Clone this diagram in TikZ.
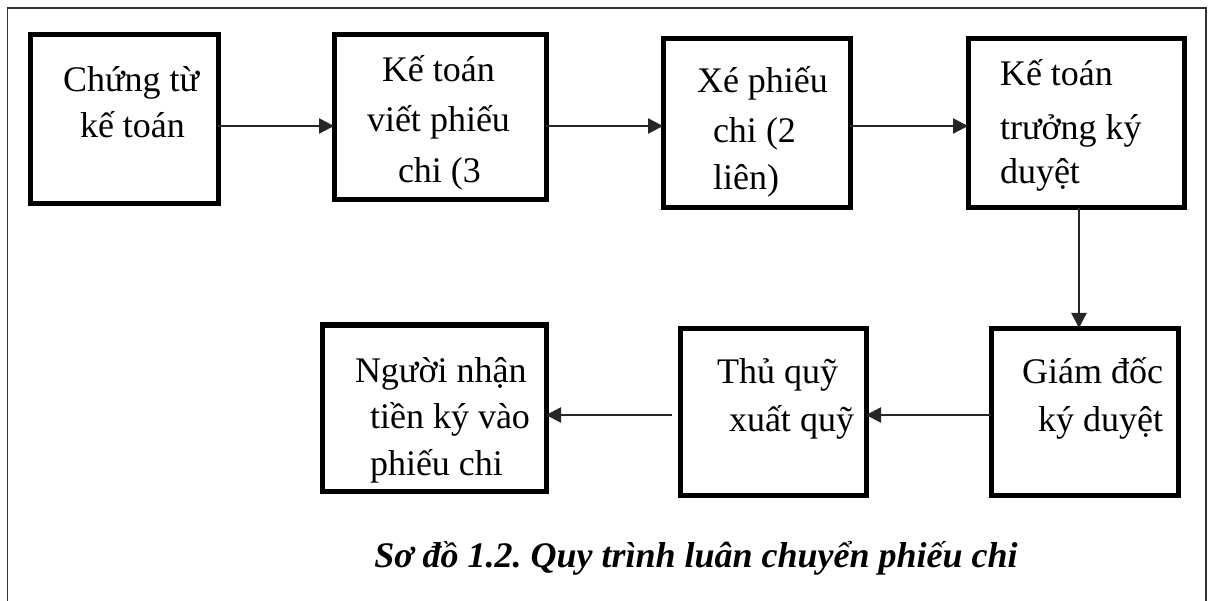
\documentclass[tikz,border=0pt]{standalone}
\usepackage{fontspec}
\setmainfont{Liberation Serif}
\usetikzlibrary{arrows.meta}
\begin{document}
\frenchspacing
\begin{tikzpicture}[x=1pt,y=-1pt,
  stepbox/.style={draw=black,line width=5pt,rectangle,inner sep=0pt,outer sep=0pt},
  lbl/.style={inner sep=0pt,outer sep=0pt,font=\fontsize{36}{44}\selectfont},
  arr/.style={draw=black!85,line width=2.4pt,-{Triangle[length=15pt,width=15pt]}},
  frame/.style={draw=black!80,line width=1.5pt}]
\useasboundingbox (0,0) rectangle (1209,601);
% open outer frame
\draw[frame] (7.5,601) -- (7.5,8) -- (1206,8) -- (1206,601);

% boxes
\node[stepbox,minimum width=188pt,minimum height=169pt] (b1) at (124,119.5) {};
\node[stepbox,minimum width=212pt,minimum height=165pt] (b2) at (440,117.5) {};
\node[stepbox,minimum width=187pt,minimum height=169pt] (b3) at (756.5,123.5) {};
\node[stepbox,minimum width=216pt,minimum height=169pt] (b4) at (1076,123.5) {};
\node[stepbox,minimum width=187pt,minimum height=167pt] (b5) at (1084.5,411.5) {};
\node[stepbox,minimum width=186pt,minimum height=167pt] (b6) at (773,411.5) {};
\node[stepbox,minimum width=224pt,minimum height=166pt] (b7) at (434,408) {};

% box texts
\node[lbl,anchor=base west] (t11) at (63,92) {Chứng từ};
\node[lbl,anchor=base west] (t12) at (80,138) {kế toán};
\node[lbl,anchor=base west] (t21) at (382,82) {Kế toán};
\node[lbl,anchor=base west] (t22) at (367,132) {viết phiếu};
\node[lbl,anchor=base west] (t23) at (398,183) {chi (3};
\node[lbl,anchor=base west] (t31) at (697,93) {Xé phiếu};
\node[lbl,anchor=base west] (t32) at (713,143) {chi (2};
\node[lbl,anchor=base west] (t33) at (713,190) {liên)};
\node[lbl,anchor=base west] (t41) at (1000,86) {Kế toán};
\node[lbl,anchor=base west] (t42) at (1000,140) {trưởng ký};
\node[lbl,anchor=base west] (t43) at (1000,184) {duyệt};
\node[lbl,anchor=base east] (t51) at (1163,383) {Giám đốc};
\node[lbl,anchor=base east] (t52) at (1163,431) {ký duyệt};
\node[lbl,anchor=base west] (t61) at (717,383) {Thủ quỹ};
\node[lbl,anchor=base west] (t62) at (729,431) {xuất quỹ};
\node[lbl,anchor=base west] (t71) at (355,382) {Người nhận};
\node[lbl,anchor=base west] (t72) at (370,428) {tiền ký vào};
\node[lbl,anchor=base west] (t73) at (370,475) {phiếu chi};

% caption
\node[lbl,anchor=base,font=\fontsize{36}{44}\selectfont\bfseries\itshape] (cap) at (696,567)
  {Sơ đồ 1.2. Quy trình luân chuyển phiếu chi};

% connectors
\coordinate (r1) at (0,126);
\coordinate (r2) at (0,415);
\coordinate (c1) at (1079,0);
\draw[arr] (b1.east |- r1) -- (b2.west |- r1);
\draw[arr] (b2.east |- r1) -- (b3.west |- r1);
\draw[arr] (b3.east |- r1) -- (b4.west |- r1);
\draw[arr] (b4.south -| c1) -- (b5.north -| c1);
\draw[arr] (b5.west |- r2) -- (b6.east |- r2);
\draw[arr,shorten <=8pt] (b6.west |- r2) -- (b7.east |- r2);
\end{tikzpicture}
\end{document}
